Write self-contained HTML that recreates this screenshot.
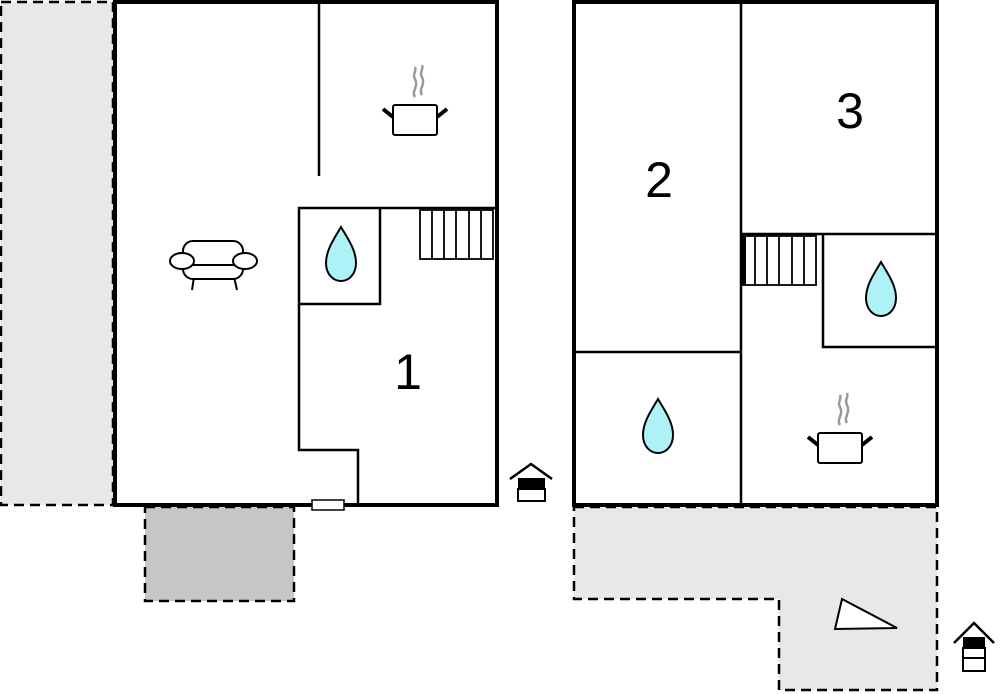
<!DOCTYPE html>
<html><head><style>html,body{margin:0;padding:0;background:#fff}svg{display:block}</style></head><body>
<svg width="1000" height="694" viewBox="0 0 1000 694" xmlns="http://www.w3.org/2000/svg" font-family="Liberation Sans, sans-serif">
<defs>
<path id="drop" d="M0,-27 C7,-15 15,-4 15,9 C15,20 8,27 0,27 C-8,27 -15,20 -15,9 C-15,-4 -7,-15 0,-27Z" fill="#aef2f8" stroke="#000" stroke-width="2"/>
<g id="pot">
<rect x="-22" y="-14" width="44" height="30" rx="2" fill="#fff" stroke="#000" stroke-width="2"/>
<line x1="-22" y1="-2" x2="-32" y2="-10" stroke="#000" stroke-width="4"/>
<line x1="22" y1="-2" x2="32" y2="-10" stroke="#000" stroke-width="4"/>
<path d="M0,-22 C-4,-28 4,-32 0,-40 C-3,-45 2,-48 0,-52 M7,-24 C3,-30 11,-34 7,-42 C4,-47 9,-50 7,-54" fill="none" stroke="#999" stroke-width="2.5"/>
</g>
</defs>
<rect x="1" y="2" width="112" height="503" fill="#e8e8e8" stroke="#000" stroke-width="2.5" stroke-dasharray="10,6"/>
<rect x="145" y="507" width="149" height="94" fill="#c6c6c6" stroke="#000" stroke-width="2.5" stroke-dasharray="10,6"/>
<path d="M574,507 L937,507 L937,690 L779,690 L779,599 L574,599Z" fill="#e8e8e8" stroke="#000" stroke-width="2.5" stroke-dasharray="10,6"/>
<rect x="115" y="2" width="382" height="503" fill="#fff" stroke="#000" stroke-width="4"/>
<g stroke="#000" stroke-width="2.5" fill="none">
<line x1="319" y1="2" x2="319" y2="176"/>
<rect x="299" y="208" width="81" height="96"/>
<line x1="380" y1="208" x2="497" y2="208"/>
<path d="M299,304 L299,450 L358,450 L358,503"/>
</g>
<g stroke="#000" stroke-width="1.8" fill="none">
<rect x="420" y="210" width="73" height="49"/>
<path d="M432,210V259M444,210V259M456,210V259M469,210V259M481,210V259"/>
</g>
<rect x="312" y="500" width="32" height="10" fill="#fff" stroke="#000" stroke-width="1.5"/>
<use href="#drop" x="341" y="254"/>
<use href="#pot" x="415" y="119"/>
<g fill="#fff" stroke="#000" stroke-width="2">
<line x1="194" y1="277" x2="192" y2="290"/><line x1="234" y1="277" x2="237" y2="290"/>
<rect x="183" y="241" width="60" height="38" rx="10"/>
<line x1="185" y1="265" x2="241" y2="265"/>
<ellipse cx="182" cy="261" rx="12" ry="8"/>
<ellipse cx="245" cy="261" rx="12" ry="8"/>
</g>
<text x="408" y="389" font-size="50" text-anchor="middle">1</text>
<path d="M510,479 L531,464 L552,479" fill="none" stroke="#000" stroke-width="2.5"/>
<rect x="518" y="478" width="27" height="11" fill="#000"/>
<rect x="518" y="489" width="27" height="12" fill="#fff" stroke="#000" stroke-width="2"/>
<rect x="574" y="2" width="363" height="503" fill="#fff" stroke="#000" stroke-width="4"/>
<g stroke="#000" stroke-width="2.5" fill="none">
<line x1="741" y1="2" x2="741" y2="505"/>
<line x1="574" y1="352" x2="741" y2="352"/>
<line x1="741" y1="234" x2="937" y2="234"/>
<path d="M823,234 L823,347 L937,347"/>
</g>
<g stroke="#000" stroke-width="1.8" fill="none">
<rect x="743" y="236" width="73" height="49"/>
<path d="M755,236V285M767,236V285M779,236V285M792,236V285M804,236V285"/>
</g>
<line x1="744" y1="236" x2="744" y2="285" stroke="#000" stroke-width="4"/>
<use href="#drop" x="881" y="289"/>
<use href="#drop" x="658" y="426"/>
<use href="#pot" x="840" y="447"/>
<text x="659" y="197" font-size="50" text-anchor="middle">2</text>
<text x="850" y="128" font-size="50" text-anchor="middle">3</text>
<path d="M842,599 L897,628 L835,629Z" fill="#fff" stroke="#000" stroke-width="2"/>
<path d="M954,643 L974,623 L994,643" fill="none" stroke="#000" stroke-width="2.5"/>
<rect x="963" y="637" width="22" height="11" fill="#000"/>
<rect x="963" y="648" width="22" height="23" fill="#fff" stroke="#000" stroke-width="2"/>
<line x1="963" y1="658" x2="985" y2="658" stroke="#000" stroke-width="2"/>
</svg>
</body></html>
